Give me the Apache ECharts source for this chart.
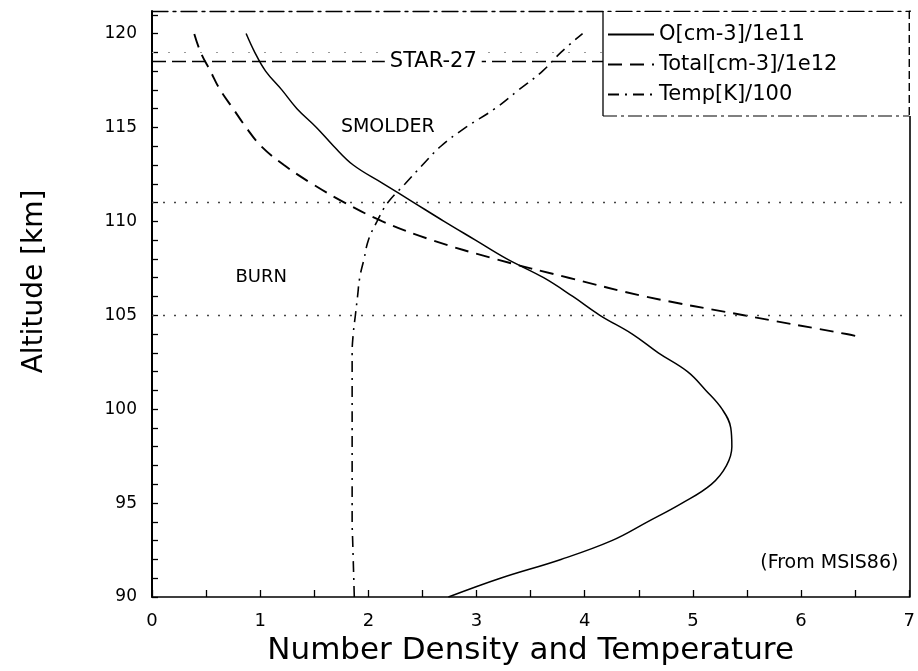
<!DOCTYPE html>
<html>
<head>
<meta charset="utf-8">
<script src="https://cdn.jsdelivr.net/npm/echarts@6/dist/echarts.min.js"></script>
<style>
  html, body { margin: 0; padding: 0; background: #fff; }
  #chart { width: 918px; height: 671px; }
</style>
</head>
<body>
<div id="chart"></div>
<script>
// Altitude grid (km) shared by the O and temperature profiles
const altitudes = [90, 91, 92, 93, 94, 95, 96, 97, 98, 99, 100, 101, 102, 103, 104, 105,
                   106, 107, 108, 109, 110, 111, 112, 113, 114, 115, 116, 117, 118, 119, 120];
// Atomic oxygen density, cm^-3 / 1e11
const oxygen = [2.74, 3.22, 3.78, 4.25, 4.58, 4.90, 5.17, 5.31, 5.36, 5.35, 5.27, 5.12, 4.95, 4.68, 4.44, 4.14,
                3.89, 3.62, 3.28, 2.99, 2.70, 2.42, 2.14, 1.86, 1.68, 1.52, 1.34, 1.20, 1.05, 0.95, 0.87];
// Neutral temperature, K / 100
const temperature = [1.87, 1.865, 1.86, 1.855, 1.85, 1.85, 1.85, 1.85, 1.85, 1.85, 1.85, 1.85, 1.85, 1.85, 1.86, 1.88,
                     1.90, 1.92, 1.96, 2.00, 2.08, 2.18, 2.34, 2.50, 2.67, 2.90, 3.17, 3.39, 3.61, 3.78, 3.98];
// Total number density, cm^-3 / 1e12 (only the part inside the frame)
const totalAlt = [103.9, 104, 105, 106, 107, 108, 109, 110, 111, 112, 113, 114, 115, 116, 117, 118, 119, 120];
const totalVal = [6.50, 6.42, 5.47, 4.56, 3.85, 3.17, 2.59, 2.13, 1.78, 1.48, 1.22, 1.01, 0.87, 0.75, 0.63, 0.54, 0.45, 0.39];

// Reference altitudes (km)
const starAlt = 118.5;
const upperDotAlt = 119;
const smolderAlt = 111;
const burnAlt = 105;

const seriesNames = ['O[cm-3]/1e11', 'Total[cm-3]/1e12', 'Temp[K]/100'];
const FONT = "'DejaVu Sans', 'Liberation Sans', sans-serif";

const chart = echarts.init(document.getElementById('chart'), null, { renderer: 'canvas' });

const option = {
  animation: false,
  backgroundColor: '#fff',
  grid: { left: 152, right: 3, top: 11, bottom: 74 },
  xAxis: [
    {
      type: 'value', min: 0, max: 7, interval: 0.5,
      axisLine: { onZero: false, lineStyle: { color: '#000', width: 1.6 } },
      axisTick: { inside: true, length: 7, lineStyle: { color: '#000', width: 1.3 } },
      axisLabel: {
        color: '#000', fontSize: 18, fontFamily: FONT, margin: 15,
        formatter: v => (Math.abs(v - Math.round(v)) < 1e-6 ? String(Math.round(v)) : '')
      },
      splitLine: { show: false }
    },
    {
      type: 'value', min: 0, max: 7, position: 'top',
      axisLine: { show: true, onZero: false, lineStyle: { color: '#000', width: 1.3, type: [16, 5, 3, 5] } },
      axisTick: { show: false }, axisLabel: { show: false }, splitLine: { show: false }
    }
  ],
  yAxis: [
    {
      type: 'value', min: 90, max: 121.2, interval: 1,
      axisLine: { onZero: false, lineStyle: { color: '#000', width: 2 } },
      axisTick: { inside: true, length: 6, lineStyle: { color: '#000', width: 1.3 } },
      axisLabel: {
        color: '#000', fontSize: 17, fontFamily: FONT, margin: 15, showMaxLabel: false,
        formatter: v => (Math.abs(v % 5) < 1e-6 ? String(v) : '')
      },
      splitLine: { show: false }
    },
    {
      type: 'value', min: 90, max: 121.2, position: 'right',
      axisLine: { show: true, onZero: false, lineStyle: { color: '#000', width: 1.6 } },
      axisTick: { show: false }, axisLabel: { show: false }, splitLine: { show: false }
    }
  ],
  legend: {
    data: seriesNames,
    orient: 'vertical',
    left: 602, top: 19,
    itemWidth: 46, itemHeight: 14, itemGap: 9,
    z: 30,
    itemStyle: { color: 'rgba(0,0,0,0)', borderWidth: 0, opacity: 0 },
    textStyle: { color: '#000', fontSize: 21, fontFamily: FONT },
    selectedMode: false
  },
  series: [
    {
      name: seriesNames[0], type: 'line', symbol: 'none', smooth: 0.4,
      data: altitudes.map((a, i) => [oxygen[i], a]),
      lineStyle: { color: '#000', width: 1.5, type: 'solid' },
      markLine: {
        silent: true, symbol: ['none', 'none'], label: { show: false },
        data: [
          { yAxis: starAlt, lineStyle: { color: '#000', width: 1.4, type: [14, 6] } },
          { yAxis: upperDotAlt, lineStyle: { color: '#999', width: 1.2, type: [2, 14] } },
          { yAxis: smolderAlt, lineStyle: { color: '#444', width: 1.3, type: [2, 9] } },
          { yAxis: burnAlt, lineStyle: { color: '#444', width: 1.3, type: [2, 9] } }
        ]
      }
    },
    {
      name: seriesNames[1], type: 'line', symbol: 'none', smooth: 0.4,
      data: totalAlt.map((a, i) => [totalVal[i], a]),
      lineStyle: { color: '#000', width: 1.9, type: [14, 8] }
    },
    {
      name: seriesNames[2], type: 'line', symbol: 'none', smooth: 0.4,
      data: altitudes.map((a, i) => [temperature[i], a]),
      lineStyle: { color: '#000', width: 1.6, type: [11, 6, 2, 6] }
    }
  ]
};

chart.setOption(option);

// Annotations placed in data coordinates
const px = (v, a) => chart.convertToPixel({ gridIndex: 0 }, [v, a]);
const starPos = px(2.60, starAlt);
const smolderPos = px(2.18, 115);
const burnPos = px(1.01, 107);
const sourcePos = px(6.9, 91.8);
const yTitlePos = px(0, 106.8);
const gridTop = px(0, 121.2)[1];
const gridRight = px(7, 90)[0];
const gridLeft = px(0, 90)[0];
const boxLeft = 603, boxBottom = 116;

function text(x, y, str, size, extra, rotation) {
  return {
    type: 'text', x: x, y: y, z: 25, rotation: rotation || 0,
    style: Object.assign({
      text: str, fill: '#000', fontSize: size, fontFamily: FONT,
      align: 'center', verticalAlign: 'middle'
    }, extra || {})
  };
}

chart.setOption({
  graphic: [
    { type: 'rect', z: 10, shape: { x: boxLeft, y: gridTop + 1, width: gridRight - boxLeft + 2, height: boxBottom - gridTop - 1 }, style: { fill: '#fff' } },
    { type: 'line', z: 11, shape: { x1: boxLeft, y1: gridTop, x2: boxLeft, y2: boxBottom }, style: { stroke: '#000', lineWidth: 1.3 } },
    { type: 'line', z: 11, shape: { x1: boxLeft, y1: boxBottom, x2: gridRight, y2: boxBottom }, style: { stroke: '#000', lineWidth: 1.2, lineDash: [14, 4, 3, 4] } },
    { type: 'line', z: 11, shape: { x1: gridRight, y1: gridTop, x2: gridRight, y2: boxBottom }, style: { stroke: '#000', lineWidth: 1.4, lineDash: [8, 4] } },
    text(starPos[0], starPos[1], 'STAR-27', 21, { backgroundColor: '#fff', padding: [2, 5] }),
    text(smolderPos[0], smolderPos[1], 'SMOLDER', 19),
    text(burnPos[0], burnPos[1], 'BURN', 18),
    text(sourcePos[0], sourcePos[1], '(From MSIS86)', 19, { align: 'right' }),
    text(35, yTitlePos[1], 'Altitude [km]', 28, null, Math.PI / 2),
    text((gridLeft + gridRight) / 2, 651, 'Number Density and Temperature', 31)
  ]
});
</script>
</body>
</html>
